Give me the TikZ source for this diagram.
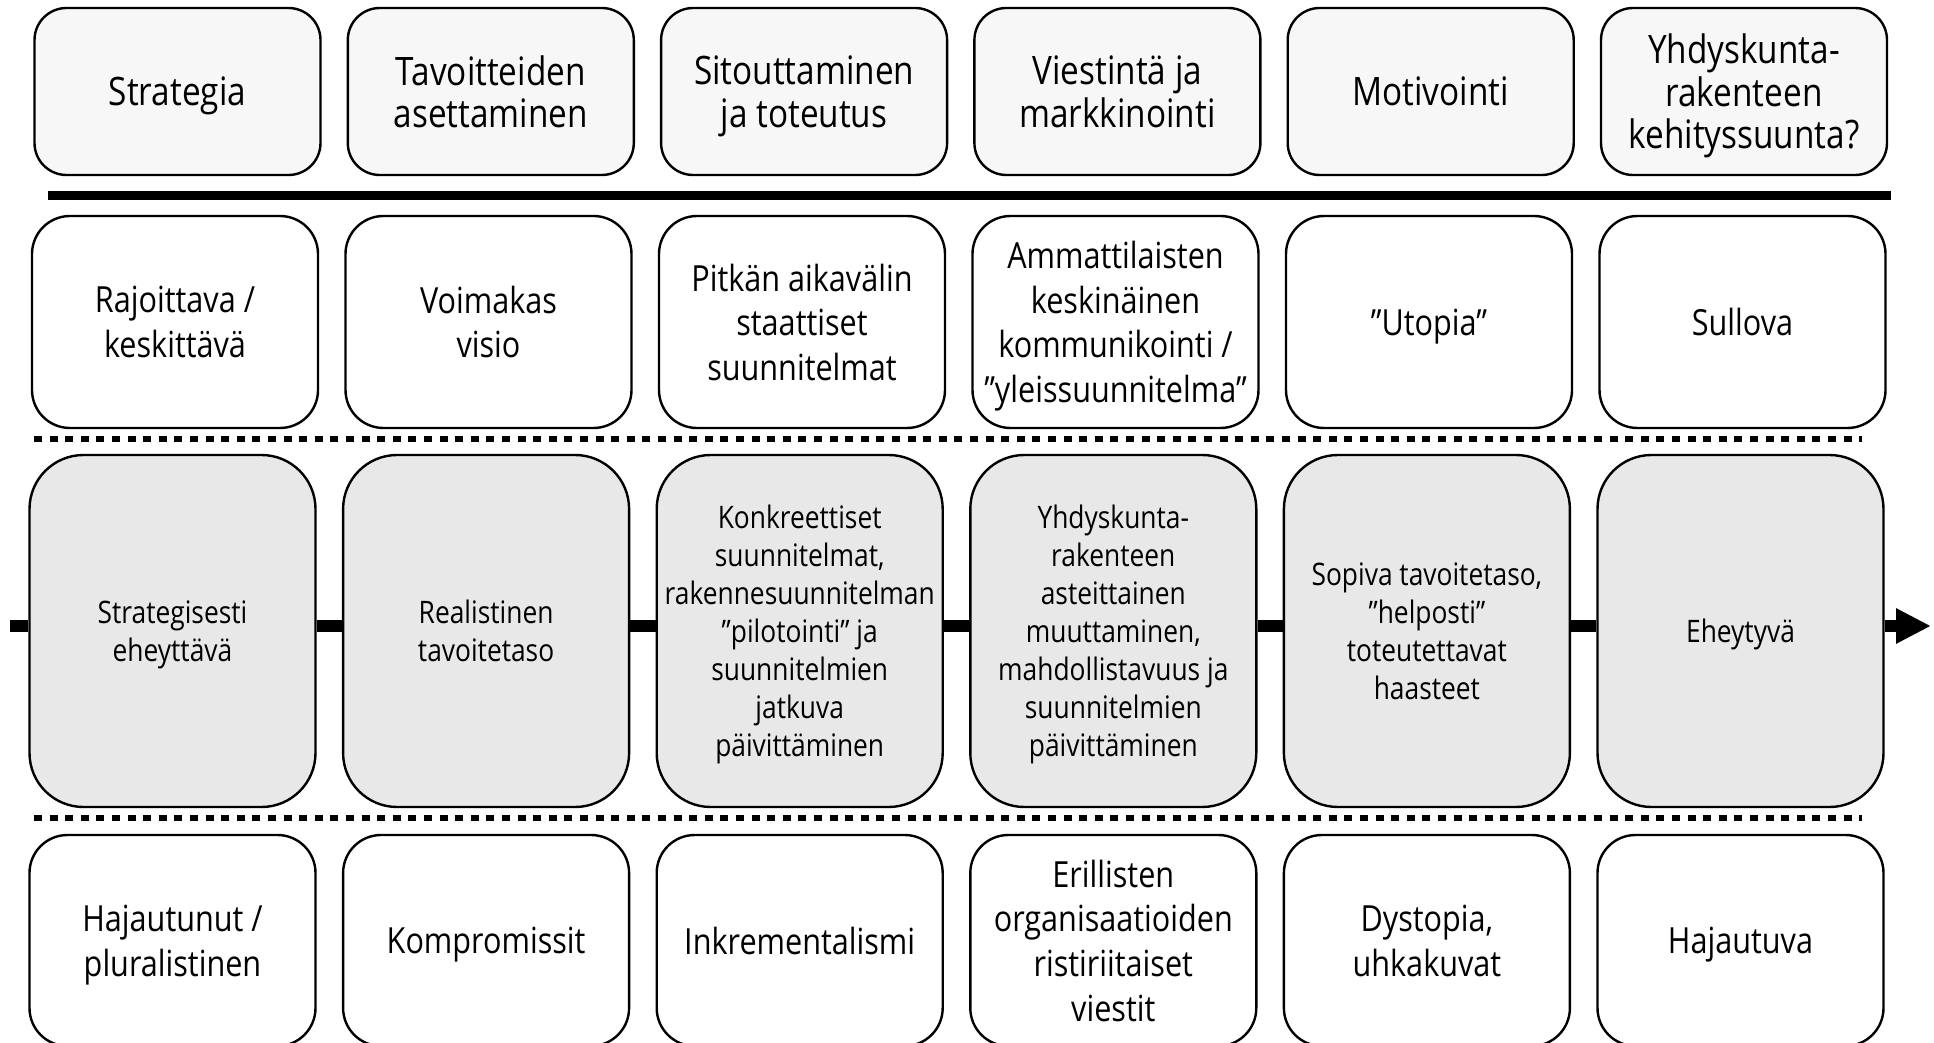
\documentclass[tikz,border=0pt]{standalone}
\usepackage{fontspec}
\setmainfont{Open Sans}[FakeStretch=0.85]
\usetikzlibrary{arrows.meta}
\definecolor{topfill}{HTML}{F7F7F7}
\definecolor{midfill}{HTML}{E8E8E8}
\tikzset{
  box/.style={draw=black, line width=1.2pt, align=center, inner sep=0pt, minimum width=143pt, text depth=0pt},
  toprow/.style={box, fill=topfill, minimum height=83.5pt, rounded corners=16pt, font=\fontsize{19.6}{21.2}\selectfont},
  uprow/.style={box, fill=white, minimum height=106pt, rounded corners=19pt, font=\fontsize{18}{22.3}\selectfont},
  midrow/.style={box, fill=midfill, minimum height=176pt, rounded corners=27pt, font=\fontsize{15.5}{19}\selectfont},
  lowrow/.style={box, fill=white, minimum height=105.5pt, rounded corners=19pt, font=\fontsize{18}{22.3}\selectfont},
  solidsep/.style={line width=4.5pt},
  dotsep/.style={line width=3pt, dash pattern=on 4pt off 3.8pt},
  flow/.style={line width=6pt},
}
\begin{document}
\begin{tikzpicture}[x=0.5pt, y=-0.5pt]
\useasboundingbox (0,0) rectangle (1934,1043);
\clip (0,0) rectangle (1934,1043);
% top row
\node[toprow] (t1) at (177.5,91.5) {Strategia};
\node[toprow] (t2) at (490.8,91.5) {Tavoitteiden\\asettaminen};
\node[toprow] (t3) at (804.1,91.5) {Sitouttaminen\\ja toteutus};
\node[toprow] (t4) at (1117.4,91.5) {Viestintä ja\\markkinointi};
\node[toprow] (t5) at (1430.7,91.5) {Motivointi};
\node[toprow] (t6) at (1744,91.5) {Yhdyskunta-\\rakenteen\\kehityssuunta?};
% solid separator
\coordinate (s1) at (48,196);
\coordinate (s2) at (1891,196);
\draw[solidsep] (s1) -- (s2);
% second row
\node[uprow] (u1) at (175,322) {Rajoittava /\\keskittävä};
\node[uprow] (u2) at (488.5,322) {Voimakas\\visio};
\node[uprow] (u3) at (802,322) {Pitkän aikavälin\\staattiset\\suunnitelmat};
\node[uprow] (u4) at (1115.5,322) {Ammattilaisten\\keskinäinen\\kommunikointi /\\”yleissuunnitelma”};
\node[uprow] (u5) at (1429,322) {”Utopia”};
\node[uprow] (u6) at (1742.5,322) {Sullova};
% dotted separator 1
\coordinate (d1a) at (34,439);
\coordinate (d1b) at (1862,439);
\draw[dotsep] (d1a) -- (d1b);
% middle row
\node[midrow] (c1) at (172.5,631) {Strategisesti\\eheyttävä};
\node[midrow] (c2) at (486.1,631) {Realistinen\\tavoitetaso};
\node[midrow] (c3) at (799.7,631) {Konkreettiset\\suunnitelmat,\\rakennesuunnitelman\\”pilotointi” ja\\suunnitelmien\\jatkuva\\päivittäminen};
\node[midrow] (c4) at (1113.3,631) {Yhdyskunta-\\rakenteen\\asteittainen\\muuttaminen,\\mahdollistavuus ja\\suunnitelmien\\päivittäminen};
\node[midrow] (c5) at (1426.9,631) {Sopiva tavoitetaso,\\”helposti”\\toteutettavat\\haasteet};
\node[midrow] (c6) at (1740.5,631) {Eheytyvä};
% flow connectors
\coordinate (Y) at (0,626);
\coordinate (fstart) at (10,626);
\coordinate (fend) at (1931,626);
\draw[flow] (fstart) -- (c1.west |- Y);
\draw[flow] (c1.east |- Y) -- (c2.west |- Y);
\draw[flow] (c2.east |- Y) -- (c3.west |- Y);
\draw[flow] (c3.east |- Y) -- (c4.west |- Y);
\draw[flow] (c4.east |- Y) -- (c5.west |- Y);
\draw[flow] (c5.east |- Y) -- (c6.west |- Y);
\draw[flow, -{Triangle[length=17.5pt, width=16.5pt]}] (c6.east |- Y) -- (fend);
% dotted separator 2
\coordinate (d2a) at (34,818);
\coordinate (d2b) at (1862,818);
\draw[dotsep] (d2a) -- (d2b);
% bottom row
\node[lowrow] (b1) at (172.5,940.5) {Hajautunut /\\pluralistinen};
\node[lowrow] (b2) at (486.1,940.5) {Kompromissit};
\node[lowrow] (b3) at (799.7,940.5) {Inkrementalismi};
\node[lowrow] (b4) at (1113.3,940.5) {Erillisten\\organisaatioiden\\ristiriitaiset\\viestit};
\node[lowrow] (b5) at (1426.9,940.5) {Dystopia,\\uhkakuvat};
\node[lowrow] (b6) at (1740.5,940.5) {Hajautuva};
\end{tikzpicture}
\end{document}
